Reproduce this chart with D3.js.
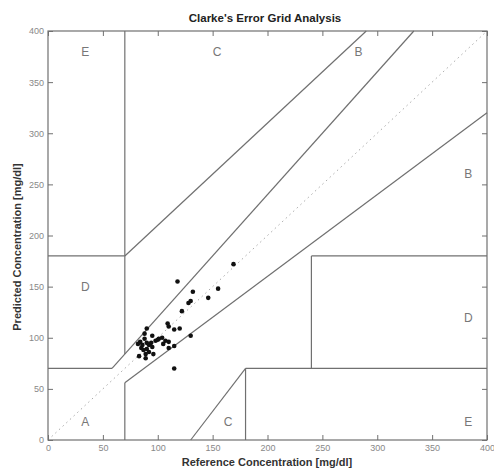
<!DOCTYPE html>
<html>
<head>
<script src="https://cdn.jsdelivr.net/npm/d3@7/dist/d3.min.js"></script>
<style>
  body { margin: 0; background: #fff; }
</style>
</head>
<body>
<script>

    // measured glucose pairs [reference, predicted] (mg/dl)
    var refValues  = [169, 118, 132, 155, 146, 128, 130, 122, 109, 110, 115, 120, 130, 90, 88, 95,
                      84, 90, 98, 101, 104, 105, 110, 85, 90, 95, 110, 115, 83, 89, 96, 115,
                      86, 92, 88, 100, 92, 89, 87, 94, 107, 82];
    var predValues = [172, 155, 145, 148, 139, 134, 136, 126, 114, 111, 108, 109, 102, 109, 104, 102,
                      96, 95, 97, 99, 100, 94, 96, 90, 89, 91, 90, 92, 82, 84, 84, 70,
                      93, 93, 99, 98, 86, 80, 88, 95, 97, 94];

    // zone boundary segments [x1, y1, x2, y2]
    var zoneLines = [
        [0, 70, 175/3, 70], [175/3, 70, 400/1.2, 400], [70, 84, 70, 400],
        [0, 180, 70, 180], [70, 180, 290, 400], [70, 0, 70, 56],
        [70, 56, 400, 320], [180, 0, 180, 70], [180, 70, 400, 70],
        [240, 70, 240, 180], [240, 180, 400, 180], [130, 0, 180, 70]
    ];

    var zoneNames = ["E", "C", "B", "B", "D", "D", "A", "C", "E"];
    var zoneX     = [34, 154, 283, 383, 34, 383, 34, 164, 383];
    var zoneY     = [380, 380, 380, 260, 150, 120, 18, 18, 18];

    var ticks = [0, 50, 100, 150, 200, 250, 300, 350, 400];

    var width = 494, height = 469,
        mLeft = 48, mRight = 487, mTop = 31, mBottom = 440;

    var x = d3.scaleLinear().domain([0, 400]).range([mLeft, mRight]);
    var y = d3.scaleLinear().domain([0, 400]).range([mBottom, mTop]);

    var svg = d3.select("body")
                .append("svg")
                .attr("width", width)
                .attr("height", height)
                .style("font-family", "'Liberation Sans', Arial, sans-serif");

    var grey = "#707070";

    // diagonal y = x
    svg.append("line")
       .attr("x1", x(0)).attr("y1", y(0))
       .attr("x2", x(400)).attr("y2", y(400))
       .attr("stroke", "#aaa")
       .attr("stroke-width", 1)
       .attr("stroke-dasharray", "1.5,3.5");

    svg.selectAll("line.zone")
       .data(zoneLines)
       .enter()
       .append("line")
       .attr("class", "zone")
       .attr("x1", d => x(d[0])).attr("y1", d => y(d[1]))
       .attr("x2", d => x(d[2])).attr("y2", d => y(d[3]))
       .attr("stroke", grey)
       .attr("stroke-width", 1.2);

    svg.selectAll("text.zone")
       .data(zoneNames)
       .enter()
       .append("text")
       .attr("class", "zone")
       .attr("x", (d, i) => x(zoneX[i]))
       .attr("y", (d, i) => y(zoneY[i]))
       .attr("dy", "0.35em")
       .attr("text-anchor", "middle")
       .attr("font-size", 12)
       .attr("fill", "#777")
       .text(d => d);

    // axes, ticks pointing inward on all four sides
    function styleAxis(g) {
        g.select(".domain").remove();
        g.selectAll(".tick line").attr("stroke", grey);
        g.selectAll("text").attr("fill", "#888").attr("font-size", 9);
    }

    svg.append("g")
       .attr("transform", "translate(0," + mBottom + ")")
       .call(d3.axisBottom(x).tickValues(ticks).tickSize(-5).tickSizeOuter(0).tickPadding(5))
       .call(styleAxis);

    svg.append("g")
       .attr("transform", "translate(" + mLeft + ",0)")
       .call(d3.axisLeft(y).tickValues(ticks).tickSize(-5).tickSizeOuter(0).tickPadding(4))
       .call(styleAxis);

    svg.append("g")
       .attr("transform", "translate(0," + mTop + ")")
       .call(d3.axisTop(x).tickValues(ticks).tickSize(-5).tickSizeOuter(0).tickFormat(""))
       .call(styleAxis);

    svg.append("g")
       .attr("transform", "translate(" + mRight + ",0)")
       .call(d3.axisRight(y).tickValues(ticks).tickSize(-5).tickSizeOuter(0).tickFormat(""))
       .call(styleAxis);

    svg.append("rect")
       .attr("x", mLeft).attr("y", mTop)
       .attr("width", mRight - mLeft).attr("height", mBottom - mTop)
       .attr("fill", "none")
       .attr("stroke", grey)
       .attr("stroke-width", 1.2);

    svg.selectAll("circle")
       .data(refValues)
       .enter()
       .append("circle")
       .attr("cx", d => x(d))
       .attr("cy", (d, i) => y(predValues[i]))
       .attr("r", 2.3)
       .attr("fill", "#111");

    svg.append("text")
       .attr("x", 265).attr("y", 22)
       .attr("text-anchor", "middle")
       .attr("font-size", 11.5)
       .attr("font-weight", "bold")
       .attr("fill", "#222")
       .text("Clarke's Error Grid Analysis");

    svg.append("text")
       .attr("x", 267).attr("y", 466)
       .attr("text-anchor", "middle")
       .attr("font-size", 11)
       .attr("font-weight", "bold")
       .attr("fill", "#333")
       .text("Reference Concentration [mg/dl]");

    svg.append("text")
       .attr("transform", "translate(21,247) rotate(-90)")
       .attr("text-anchor", "middle")
       .attr("font-size", 11)
       .attr("font-weight", "bold")
       .attr("fill", "#333")
       .text("Predicted Concentration [mg/dl]");

</script>
</body>
</html>
